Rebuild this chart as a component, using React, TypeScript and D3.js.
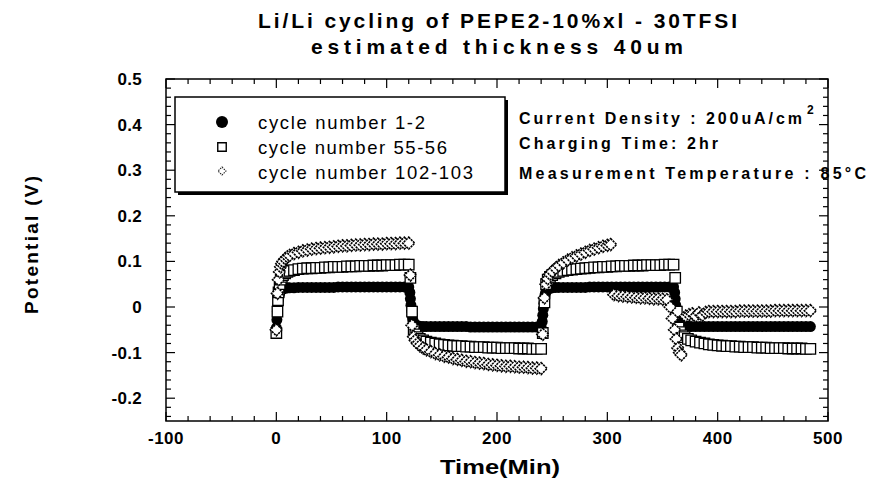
import React from "react";
import * as d3 from "d3";

const titleLines = ["Li/Li cycling of PEPE2-10%xl - 30TFSI", "estimated thickness 40um"];
const xTicks = [-100, 0, 100, 200, 300, 400, 500];
const yTicks = [0.5, 0.4, 0.3, 0.2, 0.1, 0, -0.1, -0.2];
const yTickLabels = ["0.5", "0.4", "0.3", "0.2", "0.1", "0", "-0.1", "-0.2"];
const legendLabels = ["cycle number 1-2", "cycle number 55-56", "cycle number 102-103"];
const notes = ["Current Density : 200uA/cm", "Charging Time: 2hr", "Measurement Temperature : 85°C"];

// [time (min), potential (V)]
const cycle1to2: [number, number][] = [
  [0,-0.046],[0.5,-0.028],[1,-0.01],[1.5,0.004],[2,0.016],[2.5,0.024],[3,0.03],[4,0.035],[5,0.038],[6,0.04],[8,0.041],[10,0.042],[12,0.042],[16,0.042],[20,0.043],[24,0.043],[28,0.043],[32,0.043],[36,0.043],[40,0.043],[44,0.043],[48,0.043],[52,0.043],[56,0.044],[60,0.044],[64,0.044],[68,0.044],[72,0.044],[76,0.044],[80,0.044],[84,0.044],[88,0.044],[92,0.044],[96,0.044],[100,0.044],[104,0.044],[108,0.044],[112,0.044],[116,0.044],[120,0.044],
  [121,0.032],[121.5,0.018],[122,0.004],[122.5,-0.008],[123,-0.018],[123.5,-0.026],[124,-0.031],[125,-0.036],[126,-0.039],[128,-0.041],[130,-0.042],[133,-0.043],[136,-0.043],[140,-0.043],[144,-0.043],[148,-0.043],[152,-0.043],[156,-0.043],[160,-0.043],[164,-0.043],[168,-0.043],[172,-0.043],[176,-0.044],[180,-0.044],[184,-0.044],[188,-0.044],[192,-0.044],[196,-0.044],[200,-0.044],[204,-0.044],[208,-0.044],[212,-0.044],[216,-0.044],[220,-0.044],[224,-0.044],[228,-0.044],[232,-0.044],[236,-0.044],[240,-0.044],
  [241,-0.032],[241.5,-0.018],[242,-0.004],[242.5,0.008],[243,0.018],[243.5,0.026],[244,0.031],[245,0.036],[246,0.039],[248,0.041],[250,0.042],[253,0.043],[256,0.043],[260,0.043],[264,0.043],[268,0.043],[272,0.043],[276,0.043],[280,0.043],[284,0.044],[288,0.044],[292,0.044],[296,0.044],[300,0.044],[304,0.044],[308,0.044],[312,0.044],[316,0.044],[320,0.044],[324,0.044],[328,0.044],[332,0.044],[336,0.044],[340,0.044],[344,0.044],[348,0.044],[352,0.044],[356,0.044],[360,0.044],
  [361,0.032],[361.5,0.018],[362,0.004],[362.5,-0.008],[363,-0.018],[363.5,-0.026],[364,-0.031],[365,-0.036],[366,-0.039],[368,-0.041],[370,-0.042],[373,-0.042],[376,-0.043],[380,-0.043],[384,-0.043],[388,-0.043],[392,-0.043],[396,-0.043],[400,-0.043],[404,-0.043],[408,-0.043],[412,-0.043],[416,-0.043],[420,-0.043],[424,-0.043],[428,-0.043],[432,-0.043],[436,-0.043],[440,-0.043],[444,-0.043],[448,-0.043],[452,-0.043],[456,-0.043],[460,-0.043],[464,-0.043],[468,-0.043],[472,-0.043],[476,-0.043],[480,-0.043],[484,-0.043],
];

const cycle55to56: [number, number][] = [
  [0,-0.057],[1,-0.01],[1.5,0.015],[2,0.032],[3,0.05],[4,0.06],[5,0.066],[6,0.07],[8,0.074],[10,0.077],[12,0.079],[16,0.081],[20,0.083],[24,0.084],[28,0.085],[32,0.085],[36,0.086],[40,0.086],[44,0.087],[48,0.087],[52,0.088],[56,0.088],[60,0.088],[64,0.089],[68,0.089],[72,0.089],[76,0.09],[80,0.09],[84,0.09],[88,0.091],[92,0.091],[96,0.091],[100,0.092],[104,0.092],[108,0.092],[112,0.093],[116,0.093],[120,0.093],
  [121.5,0.064],[123,-0.01],[124.5,-0.05],[126,-0.06],[128,-0.066],[130,-0.07],[133,-0.073],[136,-0.076],[140,-0.078],[144,-0.08],[148,-0.082],[152,-0.083],[156,-0.084],[160,-0.085],[164,-0.086],[168,-0.086],[172,-0.087],[176,-0.087],[180,-0.088],[184,-0.088],[188,-0.088],[192,-0.089],[196,-0.089],[200,-0.089],[204,-0.09],[208,-0.09],[212,-0.09],[216,-0.09],[220,-0.091],[224,-0.091],[228,-0.091],[232,-0.092],[236,-0.092],[240,-0.092],
  [241.5,-0.057],[243,0.01],[244.5,0.05],[246,0.06],[248,0.066],[250,0.07],[253,0.074],[256,0.077],[260,0.079],[264,0.081],[268,0.082],[272,0.083],[276,0.084],[280,0.085],[284,0.086],[288,0.087],[292,0.087],[296,0.088],[300,0.088],[304,0.089],[308,0.089],[312,0.09],[316,0.09],[320,0.09],[324,0.091],[328,0.091],[332,0.091],[336,0.092],[340,0.092],[344,0.092],[348,0.092],[352,0.093],[356,0.093],[360,0.093],
  [361.5,0.064],[363,-0.01],[364.5,-0.045],[366,-0.055],[368,-0.062],[370,-0.066],[373,-0.07],[376,-0.073],[380,-0.076],[384,-0.078],[388,-0.08],[392,-0.082],[396,-0.083],[400,-0.084],[404,-0.085],[408,-0.086],[412,-0.086],[416,-0.087],[420,-0.087],[424,-0.088],[428,-0.088],[432,-0.088],[436,-0.089],[440,-0.089],[444,-0.089],[448,-0.09],[452,-0.09],[456,-0.09],[460,-0.09],[464,-0.091],[468,-0.091],[472,-0.091],[476,-0.091],[480,-0.092],[484,-0.092],
];

const cycle102to103: [number, number][] = [
  [0,-0.05],[1,0.03],[2,0.06],[3,0.077],[4,0.088],[5,0.095],[6,0.1],[8,0.106],[10,0.11],[12,0.113],[16,0.117],[20,0.12],[24,0.123],[28,0.125],[32,0.127],[36,0.128],[40,0.129],[44,0.13],[48,0.131],[52,0.132],[56,0.133],[60,0.134],[64,0.134],[68,0.135],[72,0.136],[76,0.136],[80,0.137],[84,0.137],[88,0.138],[92,0.138],[96,0.138],[100,0.139],[104,0.139],[108,0.139],[112,0.14],[116,0.14],[120,0.14],
  [121.5,0.07],[123,-0.04],[124.5,-0.065],[126,-0.073],[128,-0.08],[130,-0.085],[133,-0.09],[136,-0.094],[140,-0.098],[144,-0.102],[148,-0.105],[152,-0.108],[156,-0.11],[160,-0.113],[164,-0.115],[168,-0.117],[172,-0.119],[176,-0.12],[180,-0.122],[184,-0.123],[188,-0.124],[192,-0.126],[196,-0.127],[200,-0.128],[204,-0.129],[208,-0.13],[212,-0.13],[216,-0.131],[220,-0.132],[224,-0.132],[228,-0.133],[232,-0.134],[236,-0.134],[240,-0.135],
  [241.5,-0.06],[243,0.02],[244.5,0.05],[246,0.062],[248,0.072],[250,0.078],[253,0.085],[256,0.091],[260,0.097],[264,0.103],[268,0.108],[272,0.112],[276,0.116],[280,0.12],[284,0.124],[288,0.127],[292,0.13],[296,0.133],[300,0.135],[303,0.137],
  [306,0.027],[310,0.025],[314,0.024],[318,0.023],[322,0.022],[326,0.021],[330,0.02],[334,0.02],[338,0.019],[342,0.018],[346,0.018],[350,0.017],[354,0.016],[357,0.0],[359,-0.025],[361,-0.05],[362.5,-0.07],[364,-0.09],[365.5,-0.1],[367,-0.105],
  [371,-0.02],[374,-0.017],[377,-0.015],[380,-0.02],[383,-0.013],[386,-0.018],[389,-0.012],[392,-0.01],[396,-0.01],[400,-0.01],[404,-0.01],[408,-0.01],[412,-0.01],[416,-0.01],[420,-0.009],[424,-0.009],[428,-0.009],[432,-0.009],[436,-0.009],[440,-0.009],[444,-0.009],[448,-0.009],[452,-0.008],[456,-0.008],[460,-0.008],[464,-0.008],[468,-0.008],[472,-0.008],[476,-0.008],[480,-0.008],[484,-0.008],
];

const FONT = "'Liberation Sans', Arial, Helvetica, sans-serif";

export default function App() {
  const W = 871, H = 479;
  const x = d3.scaleLinear().domain([-100, 500]).range([166, 828]);
  const y = d3.scaleLinear().domain([-0.25, 0.5]).range([421, 79]);
  const [x0, x1] = x.range();
  const [y0, y1] = y.range();

  const xMinor = d3.range(-100, 500.01, 20);
  const yMinor = d3.range(-0.24, 0.5001, 0.02);

  const sq = d3.symbol().type(d3.symbolSquare).size(110)() as string;
  const dia = d3.symbol().type(d3.symbolSquare).size(72)() as string;

  return (
    <svg width={W} height={H} style={{ display: "block", position: "absolute", left: 0, top: 0, background: "#fff" }} fontFamily={FONT}>
      <rect x={0} y={0} width={W} height={H} fill="#fff" />
      <text x={497.5} y={28} textAnchor="middle" fontSize={21} fontWeight="bold" textLength={479} lengthAdjust="spacing">{titleLines[0]}</text>
      <text x={497} y={54} textAnchor="middle" fontSize={21} fontWeight="bold" textLength={372} lengthAdjust="spacing">{titleLines[1]}</text>

      <g>
        {cycle1to2.map(([t, v], i) => (
          <circle key={"c" + i} cx={x(t)} cy={y(v)} r={5.5} fill="#000" />
        ))}
      </g>
      <g>
        {cycle55to56.map(([t, v], i) => (
          <path key={"s" + i} d={sq} transform={`translate(${x(t)},${y(v)})`} fill="#fff" stroke="#000" strokeWidth={1.3} />
        ))}
      </g>
      <g>
        {cycle102to103.map(([t, v], i) => (
          <path key={"d" + i} d={dia} transform={`translate(${x(t)},${y(v)}) rotate(45)`} fill="#fff" stroke="#000" strokeWidth={1.6} strokeDasharray="2.2 0.8" />
        ))}
      </g>

      <rect x={x0} y={y1} width={x1 - x0} height={y0 - y1} fill="none" stroke="#000" strokeWidth={1.5} />
      {xMinor.map((t, i) => {
        const major = Math.abs(t % 100) < 1e-6;
        const len = major ? 9 : 5;
        return (
          <g key={"xt" + i} stroke="#000" strokeWidth={1.2}>
            <line x1={x(t)} x2={x(t)} y1={y0} y2={y0 - len} />
            <line x1={x(t)} x2={x(t)} y1={y1} y2={y1 + len} />
          </g>
        );
      })}
      {yMinor.map((v, i) => {
        const major = Math.abs(Math.round(v * 10) - v * 10) < 1e-6;
        const len = major ? 9 : 5;
        return (
          <g key={"yt" + i} stroke="#000" strokeWidth={1.2}>
            <line x1={x0} x2={x0 + len} y1={y(v)} y2={y(v)} />
            <line x1={x1} x2={x1 - len} y1={y(v)} y2={y(v)} />
          </g>
        );
      })}
      {xTicks.map((t) => (
        <text key={"xl" + t} x={x(t)} y={444} textAnchor="middle" fontSize={17} fontWeight="bold" letterSpacing={0.5}>{String(t)}</text>
      ))}
      {yTicks.map((v, i) => (
        <text key={"yl" + i} x={142} y={y(v) + 6} textAnchor="end" fontSize={17} fontWeight="bold" letterSpacing={0.3}>{yTickLabels[i]}</text>
      ))}
      <text x={500} y={474} textAnchor="middle" fontSize={20} fontWeight="bold" textLength={120} lengthAdjust="spacingAndGlyphs">Time(Min)</text>
      <text transform="translate(38,245) rotate(-90)" textAnchor="middle" fontSize={19} fontWeight="bold" textLength={138} lengthAdjust="spacing">Potential (V)</text>

      <rect x={178} y={100} width={330} height={95} fill="#000" />
      <rect x={175} y={97} width={330} height={95} fill="#fff" stroke="#000" strokeWidth={1.5} />
      <circle cx={222} cy={122} r={6} fill="#000" />
      <path d={d3.symbol().type(d3.symbolSquare).size(72)() as string} transform="translate(222,147)" fill="#fff" stroke="#000" strokeWidth={1.4} />
      <path d={d3.symbol().type(d3.symbolSquare).size(32)() as string} transform="translate(222,171) rotate(45)" fill="#fff" stroke="#222" strokeWidth={1.1} strokeDasharray="1.5 1" />
      <text x={258} y={129} fontSize={18.5} textLength={167} lengthAdjust="spacing">{legendLabels[0]}</text>
      <text x={258} y={154} fontSize={18.5} textLength={189} lengthAdjust="spacing">{legendLabels[1]}</text>
      <text x={258} y={179} fontSize={18.5} textLength={215} lengthAdjust="spacing">{legendLabels[2]}</text>

      <text x={519} y={124} fontSize={16} fontWeight="bold" textLength={283} lengthAdjust="spacing">{notes[0]}</text>
      <text x={807} y={114} fontSize={12} fontWeight="bold">2</text>
      <text x={519} y={149} fontSize={16} fontWeight="bold" textLength={199} lengthAdjust="spacing">{notes[1]}</text>
      <text x={519} y={179} fontSize={16} fontWeight="bold" textLength={347} lengthAdjust="spacing">{notes[2]}</text>
    </svg>
  );
}
